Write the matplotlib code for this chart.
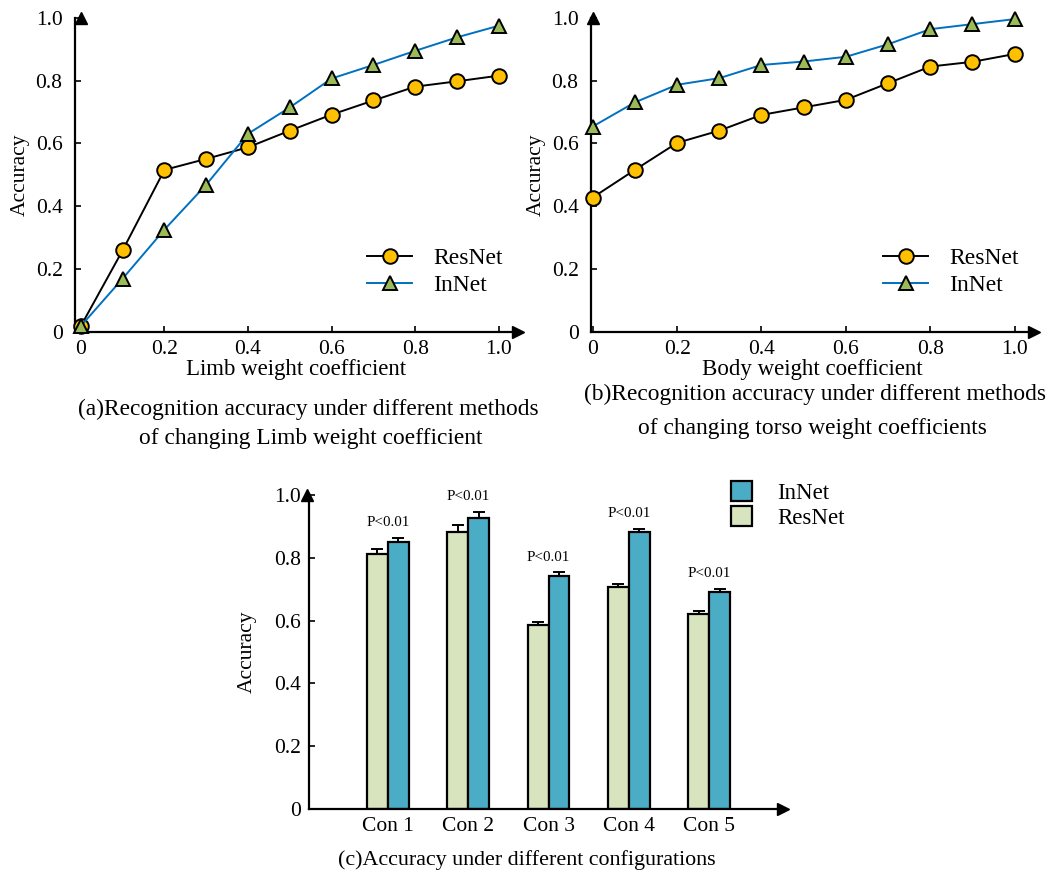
import numpy as np
import matplotlib.pyplot as plt

plt.rcParams['font.family'] = ['Liberation Serif', 'DejaVu Serif']

# Données (a) : coefficient de poids des membres
coef = [0, 0.1, 0.2, 0.3, 0.4, 0.5, 0.6, 0.7, 0.8, 0.9, 1.0]
limb_resnet = [0.019, 0.26, 0.516, 0.551, 0.588, 0.641, 0.692, 0.737, 0.781, 0.798, 0.816]
limb_innet = [0.019, 0.17, 0.326, 0.469, 0.631, 0.715, 0.807, 0.85, 0.895, 0.938, 0.975]

# Données (b) : coefficient de poids du corps
body_resnet = [0.428, 0.516, 0.602, 0.641, 0.691, 0.715, 0.739, 0.792, 0.845, 0.86, 0.885]
body_innet = [0.654, 0.731, 0.787, 0.808, 0.85, 0.861, 0.876, 0.916, 0.964, 0.98, 0.996]

# Données (c) : configurations
configs = ["Con 1", "Con 2", "Con 3", "Con 4", "Con 5"]
conf_resnet = [0.813, 0.883, 0.586, 0.708, 0.621]
conf_innet = [0.849, 0.927, 0.743, 0.883, 0.69]
err_resnet = [0.016, 0.02, 0.008, 0.008, 0.01]
err_innet = [0.015, 0.019, 0.011, 0.01, 0.011]

yticks = [0, 0.2, 0.4, 0.6, 0.8, 1.0]
ylabels = ["0", "0.2", "0.4", "0.6", "0.8", "1.0"]

W, H = 1049, 875
fig = plt.figure(figsize=(W / 100, H / 100), dpi=100)


def caption(xpx, ypx, s, size):
    # ypx = ligne de base en pixels depuis le haut
    fig.text(xpx / W, 1 - ypx / H, s, ha="center", va="baseline", fontsize=size)


def style_axes(ax, ypad=9):
    for s in ["top", "right"]:
        ax.spines[s].set_visible(False)
    for s in ["left", "bottom"]:
        ax.spines[s].set_linewidth(1.6)
    ax.tick_params(direction="in", length=4, width=1.2, labelsize=15.5)
    ax.tick_params(axis="y", pad=ypad)
    ax.tick_params(axis="x", pad=6)
    # flèches au bout des axes
    ax.plot(1, 0, ">k", markersize=9, transform=ax.get_yaxis_transform(), clip_on=False)
    ax.plot(0, 1, "^k", markersize=9, transform=ax.get_xaxis_transform(), clip_on=False)
    ax.set_yticks(yticks)
    ax.set_yticklabels(ylabels)
    ax.set_ylim(0, 1.0)


def line_panel(ax, resnet, innet, xlabel, xlim):
    ax.plot(coef, resnet, color="black", lw=1.4, marker="o", markersize=10.5,
            markerfacecolor="#FFC000", markeredgecolor="black", markeredgewidth=1.4,
            label="ResNet", clip_on=False, zorder=3)
    ax.plot(coef, innet, color="#0070C0", lw=1.4, marker="^", markersize=10.5,
            markerfacecolor="#9BBB59", markeredgecolor="black", markeredgewidth=1.4,
            label="InNet", clip_on=False, zorder=3)
    style_axes(ax)
    ax.set_xlim(*xlim)
    ax.set_xticks([0, 0.2, 0.4, 0.6, 0.8, 1.0])
    ax.set_xticklabels(["0", "0.2", "0.4", "0.6", "0.8", "1.0"])
    ax.set_xlabel(xlabel, fontsize=16.5, labelpad=0)
    ax.set_ylabel("Accuracy", fontsize=15.5, labelpad=4)
    ax.legend(loc="upper left", bbox_to_anchor=(0.66, 0.268), frameon=False,
              fontsize=17, handlelength=1.9, handletextpad=0.9,
              labelspacing=0.22, borderpad=0, borderaxespad=0)


# (a)
ax1 = fig.add_axes([0.0715, 0.6206, 0.422, 0.359])
line_panel(ax1, limb_resnet, limb_innet, "Limb weight coefficient", (-0.014, 1.045))
caption(308, 415, "(a)Recognition accuracy under different methods", 16.8)
caption(311, 444, "of changing Limb weight coefficient", 16.8)

# (b)
ax2 = fig.add_axes([0.5634, 0.6206, 0.422, 0.359])
line_panel(ax2, body_resnet, body_innet, "Body weight coefficient", (-0.004, 1.045))
caption(815, 400, "(b)Recognition accuracy under different methods", 16.8)
caption(812, 434, "of changing torso weight coefficients", 16.8)

# (c)
ax3 = fig.add_axes([0.2946, 0.0754, 0.452, 0.359])
x = np.arange(1, len(configs) + 1)
w = 0.26
ax3.bar(x - w / 2, conf_resnet, w, color="#D7E4BD", edgecolor="black", linewidth=1.6,
        yerr=[np.zeros(len(err_resnet)), err_resnet], capsize=4,
        error_kw=dict(elinewidth=1.4, capthick=1.4), label="ResNet", zorder=2)
ax3.bar(x + w / 2, conf_innet, w, color="#4BACC6", edgecolor="black", linewidth=1.6,
        yerr=[np.zeros(len(err_innet)), err_innet], capsize=4,
        error_kw=dict(elinewidth=1.4, capthick=1.4), label="InNet", zorder=2)
for xi, v, e in zip(x, conf_innet, err_innet):
    ax3.text(xi, v + e + 0.027, "P<0.01", ha="center", va="bottom", fontsize=10.8)
style_axes(ax3, ypad=6)
ax3.set_xlim(0.02, 5.92)
ax3.set_xticks(x)
ax3.set_xticklabels(configs)
ax3.tick_params(axis="x", length=0)
ax3.set_ylabel("Accuracy", fontsize=15.5, labelpad=12)
handles, labels = ax3.get_legend_handles_labels()
ax3.legend(handles[::-1], labels[::-1], loc="upper left", bbox_to_anchor=(0.89, 1.045),
           frameon=False, fontsize=16.5, handlelength=0.9, handleheight=0.95,
           handletextpad=1.1, labelspacing=0.1, borderpad=0, borderaxespad=0)
caption(527, 865, "(c)Accuracy under different configurations", 15.8)

plt.savefig("out.png", dpi=100)
plt.close()
